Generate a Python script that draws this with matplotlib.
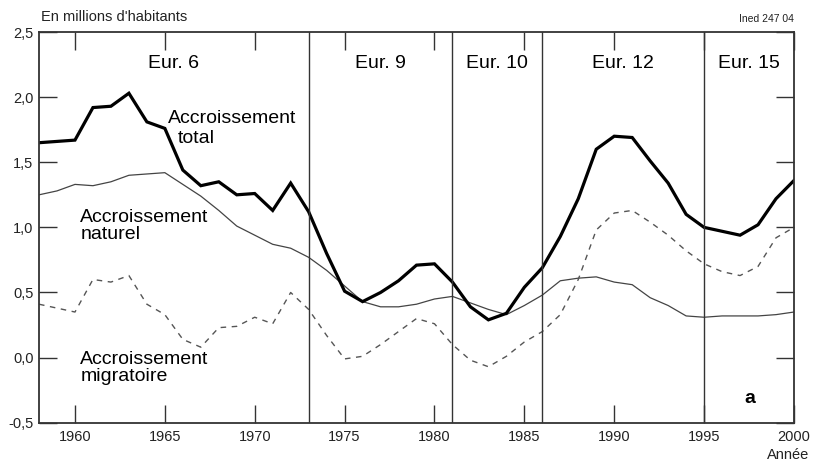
import matplotlib
matplotlib.use("Agg")
import matplotlib.pyplot as plt

plt.rcParams['font.family'] = ['Liberation Sans', 'DejaVu Sans']

# yearly values, millions of inhabitants
years = list(range(1958, 2001))
total = [1.65, 1.66, 1.67, 1.92, 1.93, 2.03, 1.81, 1.76, 1.44, 1.32,
         1.35, 1.25, 1.26, 1.13, 1.34, 1.12, 0.80, 0.51, 0.43, 0.50,
         0.59, 0.71, 0.72, 0.58, 0.39, 0.29, 0.34, 0.54, 0.69, 0.93,
         1.22, 1.60, 1.70, 1.69, 1.51, 1.34, 1.10, 1.00, 0.97, 0.94,
         1.02, 1.22, 1.36]
naturel = [1.25, 1.28, 1.33, 1.32, 1.35, 1.40, 1.41, 1.42, 1.33, 1.24,
           1.13, 1.01, 0.94, 0.87, 0.84, 0.77, 0.67, 0.55, 0.43, 0.39,
           0.39, 0.41, 0.45, 0.47, 0.42, 0.37, 0.33, 0.40, 0.48, 0.59,
           0.61, 0.62, 0.58, 0.56, 0.46, 0.40, 0.32, 0.31, 0.32, 0.32,
           0.32, 0.33, 0.35]
migratoire = [0.41, 0.38, 0.35, 0.60, 0.58, 0.63, 0.41, 0.33, 0.14, 0.08,
              0.23, 0.24, 0.31, 0.26, 0.50, 0.37, 0.17, -0.01, 0.01, 0.10,
              0.20, 0.30, 0.26, 0.10, -0.02, -0.07, 0.01, 0.12, 0.20, 0.33,
              0.60, 0.98, 1.11, 1.13, 1.04, 0.94, 0.82, 0.72, 0.66, 0.63,
              0.70, 0.92, 1.00]

# enlargements of the EU
limits = [1973, 1981, 1986, 1995]
periodes = ["Eur. 6", "Eur. 9", "Eur. 10", "Eur. 12", "Eur. 15"]
xticks = [1960, 1965, 1970, 1975, 1980, 1985, 1990, 1995, 2000]
yticks = [-0.5, 0.0, 0.5, 1.0, 1.5, 2.0, 2.5]
ylabels = ["-0,5", "0,0", "0,5", "1,0", "1,5", "2,0", "2,5"]

xmin, xmax = 1958, 2000
dark = "#333333"

fig = plt.figure(figsize=(8.13, 4.62), dpi=100)
ax = fig.add_axes([0.048, 0.085, 0.9286, 0.8457])

ax.plot(years, naturel, color="#444444", lw=0.9)
ax.plot(years, migratoire, color="#555555", lw=1.0, dashes=(4, 4))
ax.plot(years, total, color="black", lw=2.3, solid_joinstyle="miter")

for x in limits:
    ax.axvline(x, color=dark, lw=1.0)

bounds = [xmin] + limits + [xmax]
for i in range(len(periodes)):
    ax.text((bounds[i] + bounds[i + 1]) / 2, 2.255, periodes[i],
            ha="center", va="center", fontsize=14)

# series labels, one line at a time on the baseline
ax.text(1965.15, 1.80, "Accroissement", fontsize=14, va="baseline")
ax.text(1965.7, 1.645, "total", fontsize=14, va="baseline")
ax.text(1960.3, 1.045, "Accroissement", fontsize=14, va="baseline")
ax.text(1960.3, 0.91, "naturel", fontsize=14, va="baseline")
ax.text(1960.3, -0.046, "Accroissement", fontsize=14, va="baseline")
ax.text(1960.3, -0.18, "migratoire", fontsize=14, va="baseline")
ax.text(1997.55, -0.314, "a", fontsize=14, fontweight="bold",
        ha="center", va="center")

ax.set_xlim(xmin, xmax)
ax.set_ylim(-0.5, 2.5)
ax.set_xticks(xticks)
ax.set_yticks(yticks)
ax.set_yticklabels(ylabels)
ax.tick_params(direction="in", length=13, width=1.0, color=dark,
               top=True, right=True, labelsize=10.5, labelcolor="#222222",
               pad=5)
ax.tick_params(axis="y", pad=4)
for s in ax.spines.values():
    s.set_color(dark)
    s.set_linewidth(1.3)

fig.text(0.05, 0.948, "En millions d'habitants", fontsize=10.5,
         color="#222222", va="bottom")
fig.text(0.976, 0.948, "Ined 247 04", fontsize=7.5, color="#222222",
         ha="right", va="bottom")
fig.text(0.995, 0.006, "Année", fontsize=10.5, color="#222222",
         ha="right", va="baseline")

fig.savefig("out.png", dpi=100)
